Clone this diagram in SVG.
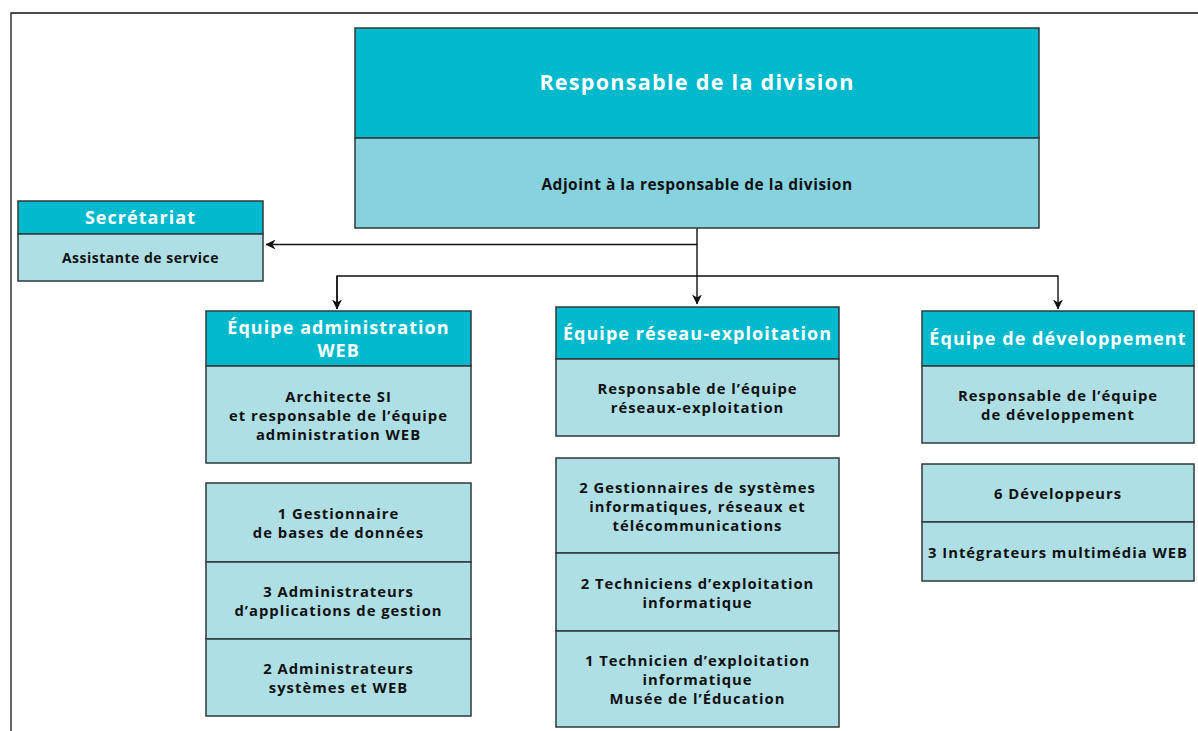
<svg xmlns="http://www.w3.org/2000/svg" width="1198" height="731" viewBox="0 0 1198 731">
<style>
.hd{fill:#00B9CC;stroke:#2f3a3d;stroke-width:1.5}
.bd{fill:#AEDFE5;stroke:#2f3a3d;stroke-width:1.5}
.bd2{fill:#86D3DF;stroke:#2f3a3d;stroke-width:1.5}
.t{font-family:"Open Sans","Liberation Sans",sans-serif;font-weight:bold;text-anchor:middle}
.w{fill:#ffffff;font-size:18px;letter-spacing:1.05px}
.b{fill:#111111;font-size:14.8px;letter-spacing:1px}
.c{fill:none;stroke:#111;stroke-width:1.4}
</style>
<defs>
<marker id="ah" viewBox="0 0 10 10" refX="9.5" refY="5" markerWidth="10" markerHeight="10" markerUnits="userSpaceOnUse" orient="auto">
<path d="M0,0 L10,5 L0,10 L3,5 Z" fill="#111"/>
</marker>
</defs>
<rect width="1198" height="731" fill="#ffffff"/>
<path d="M11,731 V13 H1198" fill="none" stroke="#111" stroke-width="1.3"/>

<g id="connectors">
<path class="c" d="M697,228 V304" marker-end="url(#ah)"/>
<path class="c" d="M697,244.5 H266" marker-end="url(#ah)"/>
<path class="c" d="M337,309 V276 H1058 V309" marker-end="url(#ah)"/>
<path class="c" d="M337,276 V309" marker-end="url(#ah)"/>
</g>

<g id="division">
<rect class="hd" x="355" y="28" width="684" height="110"/>
<rect class="bd2" x="355" y="138" width="684" height="90"/>
<text class="t w" x="697" y="90" style="font-size:21.5px;letter-spacing:1.3px">Responsable de la division</text>
<text class="t b" x="697" y="189.5" style="font-size:15.5px;letter-spacing:0.5px">Adjoint à la responsable de la division</text>
</g>

<g id="secretariat">
<rect class="hd" x="18" y="201" width="245" height="33"/>
<rect class="bd" x="18" y="234" width="245" height="47"/>
<text class="t w" x="140.5" y="224">Secrétariat</text>
<text class="t b" x="140.5" y="263" style="font-size:14px;letter-spacing:0.5px">Assistante de service</text>
</g>

<g id="equipe-web">
<rect class="hd" x="206" y="311" width="265" height="55"/>
<rect class="bd" x="206" y="366" width="265" height="97"/>
<text class="t w" x="338.5" y="334">Équipe administration</text>
<text class="t w" x="338.5" y="357">WEB</text>
<text class="t b" x="338.5" y="402">Architecte SI</text>
<text class="t b" x="338.5" y="421">et responsable de l’équipe</text>
<text class="t b" x="338.5" y="440">administration WEB</text>
</g>

<g id="web-staff">
<rect class="bd" x="206" y="483" width="265" height="79"/>
<rect class="bd" x="206" y="562" width="265" height="77"/>
<rect class="bd" x="206" y="639" width="265" height="77"/>
<text class="t b" x="338.5" y="519">1 Gestionnaire</text>
<text class="t b" x="338.5" y="538">de bases de données</text>
<text class="t b" x="338.5" y="597">3 Administrateurs</text>
<text class="t b" x="338.5" y="616">d’applications de gestion</text>
<text class="t b" x="338.5" y="674">2 Administrateurs</text>
<text class="t b" x="338.5" y="693">systèmes et WEB</text>
</g>

<g id="equipe-reseau">
<rect class="hd" x="556" y="307" width="283" height="52"/>
<rect class="bd" x="556" y="359" width="283" height="77"/>
<text class="t w" x="697.5" y="339.5">Équipe réseau-exploitation</text>
<text class="t b" x="697.5" y="394">Responsable de l’équipe</text>
<text class="t b" x="697.5" y="413">réseaux-exploitation</text>
</g>

<g id="reseau-staff">
<rect class="bd" x="556" y="458" width="283" height="95"/>
<rect class="bd" x="556" y="553" width="283" height="78"/>
<rect class="bd" x="556" y="631" width="283" height="96"/>
<text class="t b" x="697.5" y="493">2 Gestionnaires de systèmes</text>
<text class="t b" x="697.5" y="512">informatiques, réseaux et</text>
<text class="t b" x="697.5" y="531">télécommunications</text>
<text class="t b" x="697.5" y="589">2 Techniciens d’exploitation</text>
<text class="t b" x="697.5" y="608">informatique</text>
<text class="t b" x="697.5" y="666">1 Technicien d’exploitation</text>
<text class="t b" x="697.5" y="685">informatique</text>
<text class="t b" x="697.5" y="704">Musée de l’Éducation</text>
</g>

<g id="equipe-dev">
<rect class="hd" x="922" y="311" width="272" height="55"/>
<rect class="bd" x="922" y="366" width="272" height="77"/>
<text class="t w" x="1058" y="345">Équipe de développement</text>
<text class="t b" x="1058" y="401">Responsable de l’équipe</text>
<text class="t b" x="1058" y="420">de développement</text>
</g>

<g id="dev-staff">
<rect class="bd" x="922" y="464" width="272" height="58"/>
<rect class="bd" x="922" y="522" width="272" height="59"/>
<text class="t b" x="1058" y="499">6 Développeurs</text>
<text class="t b" x="1058" y="557.5">3 Intégrateurs multimédia WEB</text>
</g>
</svg>
